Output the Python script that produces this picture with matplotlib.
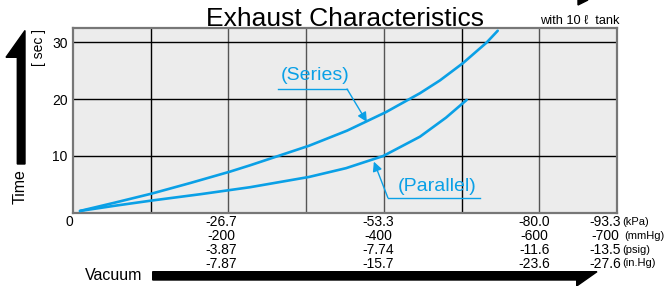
import matplotlib.pyplot as plt
import matplotlib.transforms as mtransforms
from matplotlib.patches import Polygon

plt.rcParams['font.family'] = ['Liberation Sans', 'DejaVu Sans']

# curve data (x = vacuum in -kPa, y = time in sec)
series_x = [1.2, 7.2, 13.55, 20.07, 26.93, 30.36, 40.48, 47.0, 53.68,
            59.51, 62.94, 66.88, 70.95, 72.84]
series_y = [0.31, 1.78, 3.38, 5.22, 7.24, 8.35, 11.8, 14.46, 17.73,
            21.06, 23.32, 26.36, 30.0, 32.07]
parallel_x = [1.2, 7.2, 13.55, 21.78, 30.36, 40.48, 46.83, 53.22, 59.51,
              63.97, 67.52]
parallel_y = [0.31, 1.23, 2.15, 3.25, 4.49, 6.3, 7.85, 10.0, 13.4, 16.75, 19.88]

# axis labels
kpa = ['-26.7', '-53.3', '-80.0', '-93.3']
mmhg = ['-200', '-400', '-600', '-700']
psig = ['-3.87', '-7.74', '-11.6', '-13.5']
inhg = ['-7.87', '-15.7', '-23.6', '-27.6']
units = ['(kPa)', '(mmHg)', '(psig)', '(in.Hg)']
kpa_pos = [26.67, 53.33, 80.0, 93.3]
y_ticks = [10, 20, 30]

W, H = 665, 286
blue = '#0AA0E6'


def fp(x, y):
    return (x / W, 1 - y / H)


fig = plt.figure(figsize=(W / 100, H / 100), dpi=100)
ax = fig.add_axes([73 / W, 1 - 212.7 / H, 544 / W, 184.4 / H])
ax.set_facecolor('#ececec')
ax.set_xlim(0, 93.3)
ax.set_ylim(0, 32.5)

# grid
for i in range(1, 7):
    col = 'black' if i in (1, 5) else '#555555'
    ax.axvline(93.3 * i / 7, color=col, lw=1.0, zorder=1)
for v in y_ticks:
    ax.axhline(v, color='black', lw=1.0, zorder=1)

for s in ax.spines.values():
    s.set_color('#777777')
    s.set_linewidth(1.6)

ax.set_xticks([])
ax.set_yticks(y_ticks)
ax.set_yticklabels([str(v) for v in y_ticks], fontsize=10)
ax.tick_params(axis='y', length=0, pad=4)

ax.plot(series_x, series_y, color=blue, lw=1.9, solid_capstyle='round',
        solid_joinstyle='round', zorder=3)
ax.plot(parallel_x, parallel_y, color=blue, lw=1.9, solid_capstyle='round',
        solid_joinstyle='round', zorder=3)

# annotations
ax.text(41.5, 24.1, '(Series)', color=blue, fontsize=14, ha='center', va='center')
ax.plot([35.2, 47.0], [21.8, 21.8], color=blue, lw=1.0, clip_on=False)
ax.annotate('', xy=(50.4, 16.0), xytext=(47.0, 21.8),
            arrowprops=dict(arrowstyle='-|>', color=blue, lw=1.0,
                            mutation_scale=14, shrinkA=0, shrinkB=0))
ax.text(62.4, 4.6, '(Parallel)', color=blue, fontsize=14, ha='center', va='center')
ax.plot([54.0, 69.8], [2.65, 2.65], color=blue, lw=1.0, clip_on=False)
ax.annotate('', xy=(51.6, 9.0), xytext=(54.0, 2.65),
            arrowprops=dict(arrowstyle='-|>', color=blue, lw=1.0,
                            mutation_scale=14, shrinkA=0, shrinkB=0))

# bottom scale labels
blend = mtransforms.blended_transform_factory(ax.transData, fig.transFigure)
offsets = [-7, -6, -5, -12]
rows = [kpa, mmhg, psig, inhg]
row_y = [222, 236, 250, 263.5]
for j, pos in enumerate(kpa_pos):
    tr = mtransforms.offset_copy(blend, fig=fig, x=offsets[j], y=0, units='dots')
    for r, yy in zip(rows, row_y):
        fig.text(pos, 1 - yy / H, r[j], transform=tr, fontsize=10,
                 ha='center', va='center')
unit_x = [622, 624, 622, 622]
for u, ux, yy in zip(units, unit_x, row_y):
    fig.text(*fp(ux, yy), u, fontsize=8, ha='left', va='center')
fig.text(*fp(69, 222), '0', fontsize=10, ha='center', va='center')

# titles
fig.text(*fp(344.5, 26), 'Exhaust Characteristics', fontsize=19,
         ha='center', va='baseline')
fig.text(*fp(540, 24.3), 'with 10 \u2113  tank', fontsize=9.2,
         ha='left', va='baseline')
fig.text(*fp(20, 186.5), 'Time', fontsize=11.5, rotation=90,
         ha='center', va='center')
fig.text(*fp(39, 48), '[ sec ]', fontsize=10, rotation=90,
         ha='center', va='center')
fig.text(*fp(114, 275.5), 'Vacuum', fontsize=11.5, ha='center', va='center')

# black arrows
up = [(17.3, 164), (17.3, 57.3), (6, 57.3), (25, 30.5), (25, 164)]
right = [(152.7, 271.7), (597, 271.7), (576.7, 286), (576.7, 280), (152.7, 280)]
top = [(578, 5), (588, 0), (578, 0)]
for pts in (up, right, top):
    fig.patches.append(Polygon([fp(x, y) for x, y in pts], closed=True,
                               transform=fig.transFigure, color='black'))

fig.savefig('out.png', dpi=100)
